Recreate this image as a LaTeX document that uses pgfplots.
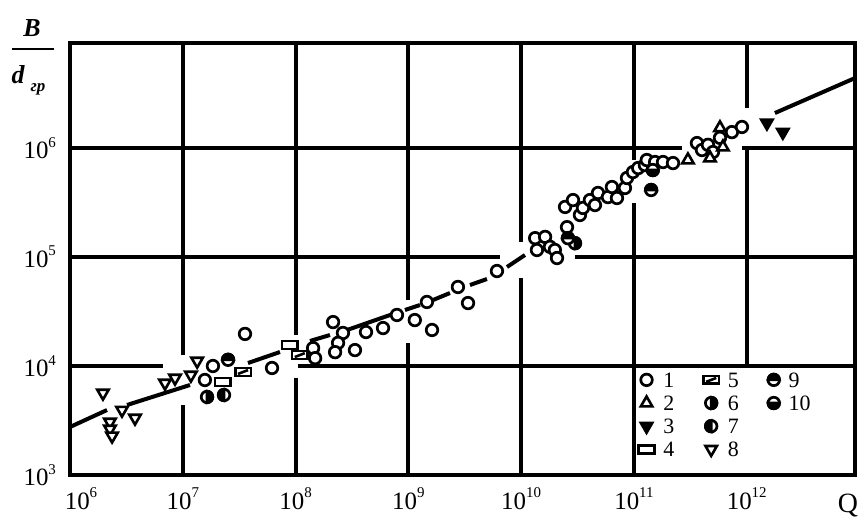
\documentclass[border=0pt]{standalone}
\usepackage{fontspec}
\setmainfont{Liberation Serif}
\usepackage{pgfplots}
\pgfplotsset{compat=1.18}
\usetikzlibrary{plotmarks}

\pgfdeclareplotmark{halfc}{%
  \pgfpathcircle{\pgfpointorigin}{\pgfplotmarksize}%
  \pgfsetfillcolor{white}\pgfusepathqfillstroke
  \pgfpathmoveto{\pgfqpoint{\pgfplotmarksize}{0pt}}%
  \pgfpatharc{0}{180}{\pgfplotmarksize}%
  \pgfpathclose
  \pgfsetfillcolor{black}\pgfusepathqfillstroke}
\pgfdeclareplotmark{rectw}{%
  \pgfpathrectanglecorners{\pgfqpoint{-1.4\pgfplotmarksize}{-0.7\pgfplotmarksize}}{\pgfqpoint{1.4\pgfplotmarksize}{0.7\pgfplotmarksize}}%
  \pgfsetfillcolor{white}\pgfusepathqfillstroke}
\pgfdeclareplotmark{rects}{%
  \pgfpathrectanglecorners{\pgfqpoint{-1.4\pgfplotmarksize}{-0.7\pgfplotmarksize}}{\pgfqpoint{1.4\pgfplotmarksize}{0.7\pgfplotmarksize}}%
  \pgfsetfillcolor{white}\pgfusepathqfillstroke
  \pgfpathmoveto{\pgfqpoint{-0.9\pgfplotmarksize}{-0.35\pgfplotmarksize}}%
  \pgfpathlineto{\pgfqpoint{0.9\pgfplotmarksize}{0.35\pgfplotmarksize}}%
  \pgfusepathqstroke}

\newcommand{\tl}[1]{10\raisebox{5.8bp}{\fontsize{7.5}{8}\selectfont #1}}

\tikzset{
  mA/.style={mark=*, mark size=2.9pt, mark options={draw=black, fill=white, line width=1.35bp}},
  mB/.style={mark=triangle*, mark size=3.3pt, mark options={draw=black, fill=white, line width=1.3bp}},
  mC/.style={mark=triangle*, mark size=3.3pt, mark options={draw=black, fill=black, rotate=180, line width=1.3bp}},
  mD/.style={mark=rectw, mark size=2.8pt, mark options={draw=black, line width=1.3bp}},
  mE/.style={mark=rects, mark size=2.8pt, mark options={draw=black, line width=1.3bp}},
  mF/.style={mark=halfc, mark size=2.9pt, mark options={draw=black, line width=1.35bp, rotate=-90}},
  mG/.style={mark=halfc, mark size=2.9pt, mark options={draw=black, line width=1.35bp, rotate=90}},
  mH/.style={mark=triangle*, mark size=3.3pt, mark options={draw=black, fill=white, rotate=180, line width=1.3bp}},
  mI/.style={mark=halfc, mark size=2.9pt, mark options={draw=black, line width=1.35bp}},
  mJ/.style={mark=halfc, mark size=2.9pt, mark options={draw=black, line width=1.35bp, rotate=180}},
}
\pgfplotsset{
  gseg/.style={forget plot, black, line width=2bp, line cap=butt, no marks},
  tseg/.style={forget plot, black, line width=2bp, line cap=butt, no marks},
}

\begin{document}
\begin{tikzpicture}
\useasboundingbox (-35bp,-22bp) rectangle (396bp,237.5bp);
\begin{axis}[
  scale only axis, width=392.5bp, height=216bp,
  xmode=log, ymode=log,
  xmin=1e6, xmax=9.12e12, ymin=1e3, ymax=9.2e6,
  axis line style={line width=2bp},
  major tick length=0pt, minor tick length=0pt,
  tick style={draw=none},
  xtick={1e6,1e7,1e8,1e9,1e10,1e11,1e12},
  xticklabels={\hspace*{11bp}\tl{6},\tl{7},\tl{8},\tl{9},\tl{10},\tl{11},\tl{12}},
  ytick={1e3,1e4,1e5,1e6},
  yticklabels={\tl{3},\tl{4},\tl{5},\tl{6}},
  tick label style={font=\fontsize{12.5}{14}\selectfont},
  xticklabel style={yshift=-3bp},
  yticklabel style={xshift=-3.5bp},
  legend columns=3,
  legend cell align=left,
  legend image code/.code={\draw[#1] plot coordinates {(0pt,0pt)};},
  legend style={draw=none, fill=none, at={(0.724,0.243)}, anchor=north west,
    inner sep=0pt, font=\fontsize{11}{12}\selectfont, row sep=2.1bp,
    /tikz/every odd column/.append style={column sep=3.5bp},
    /tikz/every even column/.append style={column sep=1bp},
    nodes={inner sep=1bp, text height=7.5pt, text depth=0pt, text width=18bp}},
]
% grid lines (interrupted where the data lie)
\addplot[gseg] coordinates {(1e6,1e4) (6.675e6,1e4)};
\addplot[gseg] coordinates {(1.05e8,1e4) (9.12e12,1e4)};
\addplot[gseg] coordinates {(1e6,1e5) (6.49e9,1e5)};
\addplot[gseg] coordinates {(3.0e10,1e5) (9.12e12,1e5)};
\addplot[gseg] coordinates {(1e6,1e6) (2.664e11,1e6)};
\addplot[gseg] coordinates {(9.07e11,1e6) (9.12e12,1e6)};
\addplot[gseg] coordinates {(1e7,1e3) (1e7,4.385e3)};
\addplot[gseg] coordinates {(1e7,1.261e4) (1e7,9.2e6)};
\addplot[gseg] coordinates {(1e8,1e3) (1e8,7.76e3)};
\addplot[gseg] coordinates {(1e8,1.925e4) (1e8,9.2e6)};
\addplot[gseg] coordinates {(1e9,1e3) (1e9,1.626e4)};
\addplot[gseg] coordinates {(1e9,4.03e4) (1e9,9.2e6)};
\addplot[gseg] coordinates {(1e10,1e3) (1e10,6.41e4)};
\addplot[gseg] coordinates {(1e10,1.373e5) (1e10,9.2e6)};
\addplot[gseg] coordinates {(1e11,1e3) (1e11,3.13e5)};
\addplot[gseg] coordinates {(1e11,7.76e5) (1e11,9.2e6)};
\addplot[gseg] coordinates {(1e12,1e4) (1e12,1e6)};
\addplot[gseg] coordinates {(1e12,2.328e6) (1e12,9.2e6)};
% trend line, broken
\addplot[tseg] coordinates {(1e6,2.757e3) (2.128e6,3.945e3)};
\addplot[tseg] coordinates {(3.202e6,4.387e3) (1.158e7,6.695e3)};
\addplot[tseg] coordinates {(3.784e7,1.065e4) (7.27e7,1.344e4)};
\addplot[tseg] coordinates {(1.342e8,1.696e4) (2.018e8,1.925e4)};
\addplot[tseg] coordinates {(2.856e8,2.139e4) (7.30e8,3.0e4)};
\addplot[tseg] coordinates {(9.33e8,3.265e4) (1.267e9,3.627e4)};
\addplot[tseg] coordinates {(1.653e9,4.031e4) (2.338e9,4.674e4)};
\addplot[tseg] coordinates {(3.517e9,5.535e4) (4.975e9,6.284e4)};
\addplot[tseg] coordinates {(7.484e9,8.097e4) (1.081e10,1.043e5)};
\addplot[tseg] coordinates {(1.778e12,2.095e6) (9.12e12,4.387e6)};
% 8
\addplot[forget plot, only marks, mH] coordinates {
 (1.96e6,5.65e3) (2.89e6,3.94e3) (3.77e6,3.33e3) (2.26e6,3.06e3) (2.26e6,2.64e3)
 (2.36e6,2.28e3) (6.95e6,6.98e3) (8.53e6,7.76e3) (1.18e7,8.26e3) (1.34e7,1.11e4)};
% 1
\addplot[forget plot, only marks, mA] coordinates {
 (1.85e7,1.00e4) (1.57e7,7.44e3) (3.56e7,1.97e4) (6.18e7,9.59e3) (1.43e8,1.46e4)
 (1.49e8,1.18e4) (2.15e8,2.53e4) (2.63e8,2.01e4) (2.38e8,1.63e4) (2.24e8,1.34e4)
 (3.36e8,1.40e4) (4.21e8,2.05e4) (5.96e8,2.23e4) (7.92e8,2.94e4) (1.14e9,2.64e4)
 (1.46e9,3.87e4) (1.62e9,2.14e4) (2.75e9,5.31e4) (3.38e9,3.78e4) (6.10e9,7.44e4)
 (1.33e10,1.49e5) (1.63e10,1.53e5) (1.38e10,1.16e5) (1.80e10,1.24e5) (1.99e10,1.16e5)
 (2.08e10,9.79e4) (2.55e10,1.88e5) (2.45e10,2.88e5) (2.88e10,3.33e5) (3.32e10,2.43e5)
 (3.53e10,2.82e5) (4.07e10,3.33e5) (4.51e10,3.00e5) (4.80e10,3.87e5) (5.88e10,3.55e5)
 (6.38e10,4.39e5) (7.07e10,3.48e5) (8.32e10,4.30e5) (8.67e10,5.31e5) (9.80e10,6.02e5)
 (1.09e11,6.55e5) (1.25e11,6.98e5) (1.30e11,7.76e5) (1.54e11,7.44e5) (1.81e11,7.44e5)
 (2.22e11,7.28e5) (3.62e11,1.11e6) (4.01e11,9.59e5) (4.53e11,1.07e6) (5.02e11,9.19e5)
 (5.79e11,1.24e6) (7.39e11,1.40e6) (9.07e11,1.56e6)};
% 2
\addplot[forget plot, only marks, mB] coordinates {
 (3.01e11,7.76e5) (4.72e11,8.09e5) (5.79e11,1.53e6) (6.15e11,1.02e6)};
% 3
\addplot[forget plot, only marks, mC] coordinates {(1.51e12,1.70e6) (2.09e12,1.40e6)};
% 4
\addplot[forget plot, only marks, mD] coordinates {(2.27e7,7.13e3) (8.92e7,1.56e4)};
% 5
\addplot[forget plot, only marks, mE] coordinates {(3.42e7,8.81e3) (1.09e8,1.26e4)};
% 6
\addplot[forget plot, only marks, mF] coordinates {(1.64e7,5.20e3) (3.00e10,1.34e5)};
% 7
\addplot[forget plot, only marks, mG] coordinates {(2.32e7,5.42e3)};
% 9
\addplot[forget plot, only marks, mI] coordinates {(2.52e7,1.14e4) (2.60e10,1.49e5) (1.42e11,4.12e5)};
% 10
\addplot[forget plot, only marks, mJ] coordinates {(1.47e11,6.28e5)};
% legend (column-wise order as in the reference)
\addlegendimage{only marks, mA}\addlegendentry{1}
\addlegendimage{only marks, mE}\addlegendentry{5}
\addlegendimage{only marks, mI}\addlegendentry{9}
\addlegendimage{only marks, mB}\addlegendentry{2}
\addlegendimage{only marks, mF}\addlegendentry{6}
\addlegendimage{only marks, mJ}\addlegendentry{10}
\addlegendimage{only marks, mC}\addlegendentry{3}
\addlegendimage{only marks, mG}\addlegendentry{7}
\addlegendimage{empty legend}\addlegendentry{}
\addlegendimage{only marks, mD}\addlegendentry{4}
\addlegendimage{only marks, mH}\addlegendentry{8}
\end{axis}
\node[font=\bfseries\itshape\fontsize{13}{15}\selectfont] at (-19bp,223.5bp) {B};
\draw[line width=1bp] (-29bp,213bp) -- (-8bp,213bp);
\node[font=\bfseries\itshape\fontsize{13}{15}\selectfont] at (-26bp,200bp) {d};
\node[font=\bfseries\itshape\fontsize{8.5}{9}\selectfont] at (-16bp,193bp) {гр};
\node[font=\fontsize{14}{16}\selectfont] at (389bp,-15.5bp) {Q};
\end{tikzpicture}
\end{document}
